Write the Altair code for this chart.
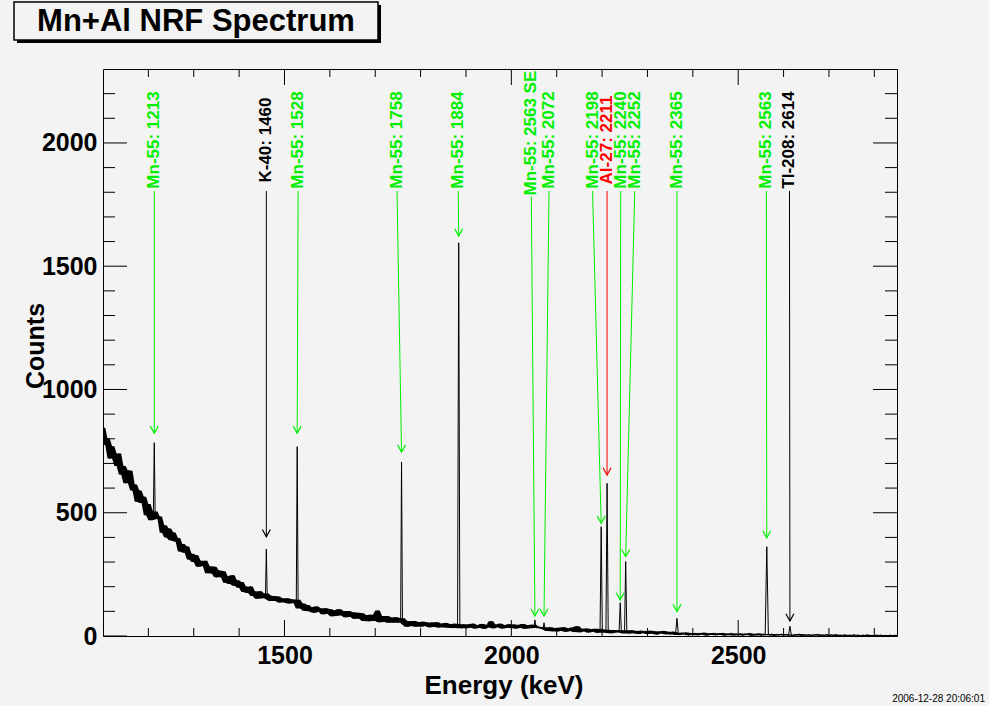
import altair as alt
import pandas as pd

# ---------------- data ----------------
# background counts, 5 keV steps starting at 1100 keV
bg_counts = [
    845, 775, 800, 720, 770, 735, 690, 740, 655, 690,
    620, 670, 670, 590, 615, 545, 590, 540, 565, 490,
    535, 470, 505, 453, 476, 485, 419, 449, 400, 436,
    388, 420, 383, 398, 343, 373, 338, 363, 310, 334,
    300, 328, 281, 305, 284, 305, 255, 283, 254, 281,
    238, 266, 238, 263, 216, 241, 211, 246, 204, 226,
    196, 219, 178, 201, 174, 201, 162, 181, 151, 182,
    153, 172, 146, 164, 142, 162, 142, 160, 136, 153,
    136, 153, 132, 149, 134, 147, 130, 112, 132, 102,
    126, 100, 116, 94, 120, 98, 112, 88, 113, 90,
    109, 80, 103, 82, 109, 84, 101, 76, 101, 78,
    96, 70, 94, 70, 92, 61, 84, 60, 86, 61,
    80, 103, 56, 81, 58, 81, 54, 75, 54, 76,
    54, 72, 50, 62, 38, 60, 41, 61, 38, 56,
    38, 58, 41, 55, 35, 55, 38, 56, 34, 50,
    35, 53, 33, 48, 32, 50, 36, 46, 31, 48,
    31, 47, 34, 50, 30, 44, 33, 49, 29, 45,
    35, 60, 31, 46, 36, 50, 30, 44, 33, 48,
    32, 47, 30, 45, 33, 49, 29, 44, 31, 46,
    38, 33, 38, 30, 36, 34, 20, 35, 19, 32,
    18, 33, 21, 35, 17, 30, 20, 34, 16, 40,
    15, 29, 19, 30, 14, 27, 18, 29, 13, 25,
    20, 25, 22, 24, 11, 24, 14, 23, 15, 20,
    14, 22, 10, 23, 11, 20, 8, 21, 12, 19,
    8, 21, 10, 19, 6, 18, 11, 20, 7, 17,
    6, 17, 9, 15, 4, 13, 7, 14, 3, 11,
    5, 12, 3, 11, 6, 13, 2, 10, 5, 12,
    3, 10, 5, 12, 2, 9, 4, 11, 2, 9,
    4, 10, 2, 9, 5, 11, 1, 8, 3, 10,
    2, 8, 4, 9, 3, 8, 1, 7, 3, 8,
    2, 7, 3, 7, 1, 6, 3, 8, 1, 6,
    2, 6, 1, 5, 3, 7, 1, 5, 2, 6,
    1, 5, 2, 6, 0, 4, 2, 5, 0, 4,
    1, 5, 2, 4, 0, 4, 1, 5, 0, 3,
    1, 4, 2, 4, 0, 3, 1, 4, 0, 3,
    2,
]
bg_energy = [1100 + 5 * i for i in range(len(bg_counts))]

peak_energy = [1213, 1460, 1528, 1758, 1884, 2052, 2072, 2198, 2211, 2240, 2252, 2365, 2563, 2614]
peak_height = [784, 353, 768, 706, 1595, 65, 54, 443, 619, 135, 302, 72, 362, 40]
peak_base = [490, 155, 135, 60, 42, 35, 30, 22, 20, 18, 16, 10, 6, 4]
peak_halfwidth = [2, 2, 2, 2, 2.5, 2, 2, 2.5, 2.5, 2.5, 2.5, 3, 3.5, 3]

ann_text = ["Mn-55: 1213", "K-40: 1460", "Mn-55: 1528", "Mn-55: 1758", "Mn-55: 1884",
            "Mn-55: 2563 SE", "Mn-55: 2072", "Mn-55: 2198", "Al-27: 2211", "Mn-55: 2240",
            "Mn-55: 2252", "Mn-55: 2365", "Mn-55: 2563", "Tl-208: 2614"]
ann_label_e = [1213, 1460, 1530, 1748, 1883, 2044, 2083, 2179, 2211, 2241, 2272, 2365, 2562, 2613]
ann_label_c = [2012, 2012, 2012, 2012, 2012, 2040, 2012, 2012, 2012, 2012, 2012, 2012, 2012, 2012]
ann_line_top = [1805, 1805, 1805, 1805, 1805, 1782, 1805, 1805, 1805, 1805, 1805, 1805, 1805, 1805]
ann_tip_e = [1213, 1460, 1528, 1758, 1884, 2052, 2072, 2198, 2211, 2240, 2252, 2365, 2563, 2614]
ann_tip_c = [822, 403, 822, 746, 1623, 81, 81, 457, 653, 146, 322, 99, 398, 61]
ann_color = ["#00ee00", "#000000", "#00ee00", "#00ee00", "#00ee00", "#00ee00", "#00ee00",
             "#00ee00", "#ff0000", "#00ee00", "#00ee00", "#00ee00", "#00ee00", "#000000"]

x_major = [1500, 2000, 2500]
x_minor = [1200, 1300, 1400, 1600, 1700, 1800, 1900, 2100, 2200, 2300, 2400, 2600, 2700, 2800]
y_major = [0, 500, 1000, 1500, 2000]
y_minor = [100, 200, 300, 400, 600, 700, 800, 900, 1100, 1200, 1300, 1400,
           1600, 1700, 1800, 1900, 2100, 2200]

title_text = "Mn+Al NRF Spectrum"
x_title = "Energy (keV)"
y_title = "Counts"
stamp_text = "2006-12-28 20:06:01"

# ---------------- layout ----------------
W, H = 794, 567
FONT = "Liberation Sans"
BG = "#f3f3f3"

xs = alt.Scale(domain=[1100, 2850], nice=False, zero=False)
ys = alt.Scale(domain=[0, 2300], nice=False, zero=False)
x_axis = alt.Axis(
    values=x_major, format="d", title=None, ticks=False, tickSize=0, domain=False,
    grid=False, labelFontSize=25, labelFont=FONT, labelFontWeight="bold",
    labelColor="black", labelPadding=7)
y_axis = alt.Axis(
    values=y_major, format="d", title=None, ticks=False, tickSize=0, domain=False,
    grid=False, labelFontSize=25, labelFont=FONT, labelFontWeight="bold",
    labelColor="black", labelPadding=6)

# background points (those not under a peak)
bg_rows = []
for e, c in zip(bg_energy, bg_counts):
    if any(abs(e - p) <= hw + 0.5 for p, hw in zip(peak_energy, peak_halfwidth)):
        continue
    bg_rows.append((e, c))
bg = pd.DataFrame(bg_rows, columns=["e", "c"])
# noise band: local min / max of neighbouring bins
bg["lo"] = bg["c"].rolling(3, center=True, min_periods=1).min()
bg["hi"] = bg["c"].rolling(3, center=True, min_periods=1).max()

rows = list(bg_rows)
for p, h, b, hw in zip(peak_energy, peak_height, peak_base, peak_halfwidth):
    rows += [(p - hw, b), (p, h), (p + hw, b)]
rows.sort()
spec = pd.DataFrame(rows, columns=["e", "c"])

ann = pd.DataFrame({
    "text": ann_text, "le": ann_label_e, "lc": ann_label_c, "te": ann_tip_e,
    "tc": ann_tip_c, "col": ann_color, "top": ann_line_top,
})

X = lambda f: alt.X(f, scale=xs, axis=x_axis)
Y = lambda f: alt.Y(f, scale=ys, axis=y_axis)

band = alt.Chart(bg).mark_area(color="black", opacity=1, clip=True).encode(
    x=X("e:Q"), y=Y("lo:Q"), y2="hi:Q")
line = alt.Chart(spec).mark_line(color="black", strokeWidth=1, clip=True).encode(
    x=X("e:Q"), y=Y("c:Q"))

layers = [band, line]


def xticks(vals, length):
    df = pd.DataFrame({"v": vals})
    bot = alt.Chart(df).mark_rule(color="black", strokeWidth=1).encode(
        x=X("v:Q"), y=alt.value(H), y2=alt.value(H - length))
    top = alt.Chart(df).mark_rule(color="black", strokeWidth=1).encode(
        x=X("v:Q"), y=alt.value(0), y2=alt.value(length))
    return [bot, top]


def yticks(vals, length):
    df = pd.DataFrame({"v": vals})
    lft = alt.Chart(df).mark_rule(color="black", strokeWidth=1).encode(
        y=Y("v:Q"), x=alt.value(0), x2=alt.value(length))
    rgt = alt.Chart(df).mark_rule(color="black", strokeWidth=1).encode(
        y=Y("v:Q"), x=alt.value(W), x2=alt.value(W - length))
    return [lft, rgt]


layers += xticks(x_major, 16) + xticks(x_minor, 8)
layers += yticks(y_major, 24) + yticks(y_minor, 12)

arrows = alt.Chart(ann).mark_rule(strokeWidth=1).encode(
    x=X("le:Q"), y=Y("top:Q"),
    x2="te:Q", y2="tc:Q", color=alt.Color("col:N", scale=None))
heads = alt.Chart(ann).mark_point(
    shape="M-1,-1.8L0,0L1,-1.8", size=64, filled=False, strokeWidth=1.2, opacity=1).encode(
    x=X("te:Q"), y=Y("tc:Q"),
    color=alt.Color("col:N", scale=None))
labels = alt.Chart(ann).mark_text(
    angle=270, align="center", baseline="middle", fontSize=17, fontWeight="bold",
    font=FONT).encode(
    x=X("le:Q"), y=Y("lc:Q"),
    text="text:N", color=alt.Color("col:N", scale=None))
layers += [arrows, heads, labels]

tdf = pd.DataFrame({"t": [title_text], "xt": [x_title], "yt": [y_title], "st": [stamp_text]})
shadow = alt.Chart(tdf).mark_rect(color="black").encode(
    x=alt.value(-86), x2=alt.value(278), y=alt.value(-64), y2=alt.value(-26))
box = alt.Chart(tdf).mark_rect(fill=BG, stroke="black", strokeWidth=1.5).encode(
    x=alt.value(-89), x2=alt.value(275), y=alt.value(-67), y2=alt.value(-29))
ttext = alt.Chart(tdf).mark_text(
    fontSize=31, fontWeight="bold", font=FONT, align="center", baseline="middle",
    color="black").encode(x=alt.value(93), y=alt.value(-47), text="t:N")
xtitle = alt.Chart(tdf).mark_text(
    fontSize=26, fontWeight="bold", font=FONT, align="center", baseline="middle",
    color="black").encode(x=alt.value(401), y=alt.value(617), text="xt:N")
ytitle = alt.Chart(tdf).mark_text(
    fontSize=25, fontWeight="bold", font=FONT, align="center", baseline="middle",
    angle=270, color="black").encode(x=alt.value(-67), y=alt.value(277), text="yt:N")
stamp = alt.Chart(tdf).mark_text(
    fontSize=10, font=FONT, align="right", baseline="middle",
    color="black").encode(x=alt.value(882), y=alt.value(630), text="st:N")
layers += [shadow, box, ttext, xtitle, ytitle, stamp]

chart = alt.layer(*layers).properties(
    width=W, height=H,
    autosize=alt.AutoSizeParams(type="none"),
    padding={"left": 103, "top": 69, "right": 92, "bottom": 70},
    background=BG,
).configure_view(stroke="black", strokeWidth=1, fill=BG)

chart.save("out.html", embed_options={"renderer": "svg", "actions": False})
